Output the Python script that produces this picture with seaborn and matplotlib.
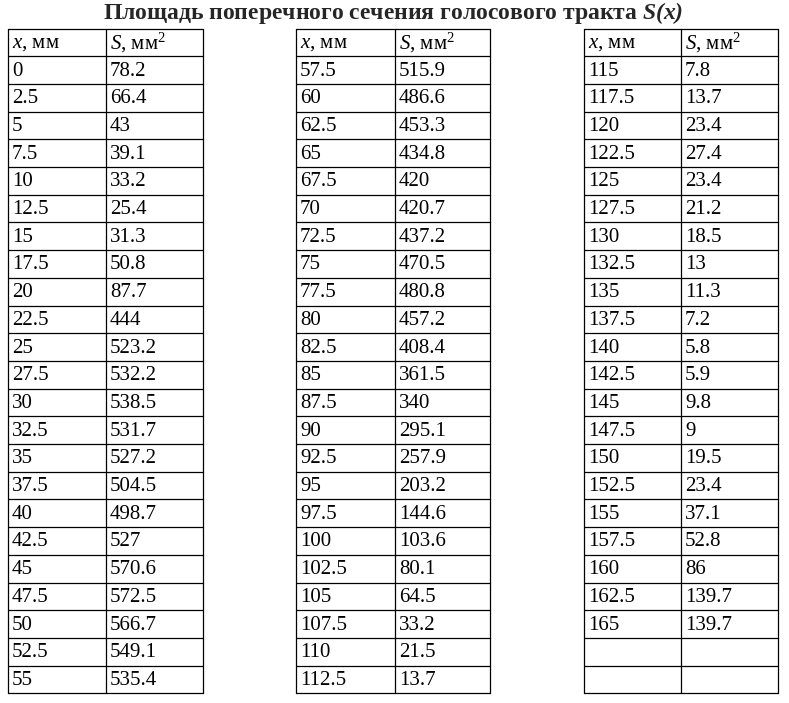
import matplotlib.pyplot as plt
import seaborn as sns

sns.set_theme(style="white")
plt.rcParams['font.family'] = ['Liberation Serif', 'DejaVu Serif']
plt.rcParams['mathtext.fontset'] = 'custom'
plt.rcParams['mathtext.rm'] = 'Liberation Serif'
plt.rcParams['mathtext.it'] = 'Liberation Serif:italic'
plt.rcParams['mathtext.bf'] = 'Liberation Serif:italic:bold'

# Data: x (mm) and S (mm^2), three blocks of the table
x1 = ["0", "2.5", "5", "7.5", "10", "12.5", "15", "17.5", "20", "22.5", "25", "27.5",
      "30", "32.5", "35", "37.5", "40", "42.5", "45", "47.5", "50", "52.5", "55"]
s1 = ["78.2", "66.4", "43", "39.1", "33.2", "25.4", "31.3", "50.8", "87.7", "444", "523.2", "532.2",
      "538.5", "531.7", "527.2", "504.5", "498.7", "527", "570.6", "572.5", "566.7", "549.1", "535.4"]
x2 = ["57.5", "60", "62.5", "65", "67.5", "70", "72.5", "75", "77.5", "80", "82.5", "85",
      "87.5", "90", "92.5", "95", "97.5", "100", "102.5", "105", "107.5", "110", "112.5"]
s2 = ["515.9", "486.6", "453.3", "434.8", "420", "420.7", "437.2", "470.5", "480.8", "457.2", "408.4", "361.5",
      "340", "295.1", "257.9", "203.2", "144.6", "103.6", "80.1", "64.5", "33.2", "21.5", "13.7"]
x3 = ["115", "117.5", "120", "122.5", "125", "127.5", "130", "132.5", "135", "137.5", "140", "142.5",
      "145", "147.5", "150", "152.5", "155", "157.5", "160", "162.5", "165", "", ""]
s3 = ["7.8", "13.7", "23.4", "27.4", "23.4", "21.2", "18.5", "13", "11.3", "7.2", "5.8", "5.9",
      "9.8", "9", "19.5", "23.4", "37.1", "52.8", "86", "139.7", "139.7", "", ""]

header = [r"$x$, мм", r"$S$, мм$^2$"]
title = r"Площадь поперечного сечения голосового тракта $\mathbf{S(x)}$"

W, H = 789, 703
fig = plt.figure(figsize=(W / 100, H / 100), dpi=100)
ax = fig.add_axes([0, 0, 1, 1])
ax.set_xlim(0, W)
ax.set_ylim(H, 0)
ax.axis('off')

ax.text(W / 2 - 1, 13, title, ha='center', va='center', fontsize=17,
        fontweight='bold')

top, row_h = 28.5, 27.7
blocks = [(x1, s1, 8, 106, 203), (x2, s2, 296, 395, 490), (x3, s3, 584, 681, 778)]
n_rows = len(x1) + 1
bottom = top + n_rows * row_h

for xs, ss, left, mid, right in blocks:
    for i in range(n_rows + 1):
        y = top + i * row_h
        ax.plot([left, right], [y, y], color='black', lw=0.9)
    for xv in (left, mid, right):
        ax.plot([xv, xv], [top, bottom], color='black', lw=0.9)
    rows = [header] + [[a, b] for a, b in zip(xs, ss)]
    for i, (a, b) in enumerate(rows):
        yc = top + (i + 0.5) * row_h + 1
        ax.text(left + 4, yc, a, ha='left', va='center', fontsize=15, color='black')
        ax.text(mid + 4, yc, b, ha='left', va='center', fontsize=15, color='black')

fig.savefig("out.png", dpi=100, facecolor='white')
